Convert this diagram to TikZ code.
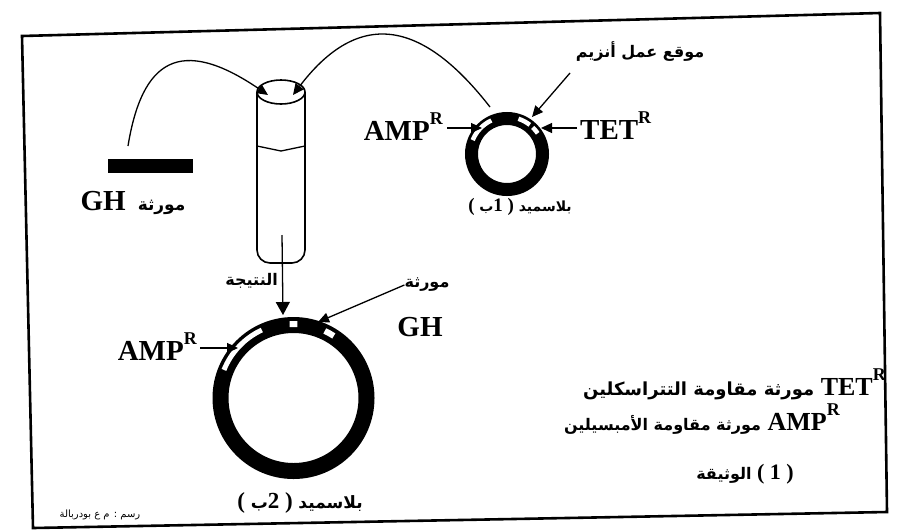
\documentclass[tikz,border=0pt]{standalone}
\usepackage{fontspec}
\setmainfont{Liberation Serif}
\newfontfamily\ar[Script=Arabic]{DejaVu Sans}
\TeXXeTstate=1
\usetikzlibrary{arrows.meta}
\newcommand\supR{\raisebox{.55em}{\fontsize{18}{18}\selectfont R}}
\begin{document}
\begin{tikzpicture}[x=1pt,y=1pt,
  lbl/.style={font=\bfseries\fontsize{29}{29}\selectfont, inner sep=0pt},
  leg/.style={font=\bfseries\fontsize{26}{26}\selectfont, inner sep=0pt},
  artxt/.style={font=\ar\bfseries\fontsize{16}{18}\selectfont, inner sep=0pt},
  tip/.style={-{Triangle[length=11pt,width=10pt]}, line width=1.3pt},
  bigtip/.style={-{Triangle[length=13pt,width=14pt]}, line width=1.3pt},
  ring/.style={line width=#1},
  gap/.style={white, line width=#1},
]
\useasboundingbox (0,0) rectangle (899,-531);
\fill[white] (0,0) rectangle (899,-531);

% outer frame
\draw[line width=2.6pt] (22,-36) -- (880,-13) -- (887,-512) -- (33,-528) -- cycle;

% ---------- GH gene ----------
\node[fill=black, minimum width=85pt, minimum height=14pt, inner sep=0pt] (gh) at (150.5,-165.5) {};
\coordinate (ghEnd) at (128,-146);
\node[inner sep=0pt] (ghlbl) at (133,-203)
  {\bfseries\fontsize{29}{29}\selectfont GH\, {\ar\fontsize{17}{19}\selectfont مورثة}};

% ---------- test tube ----------
\coordinate (tubeC) at (281,-92);
\draw[line width=1.6pt, rounded corners=13pt] (257,-92) -- (257,-263) -- (305,-263) -- (305,-92);
\draw[line width=1.6pt, fill=white] (tubeC) ellipse (24 and 12);
\draw[line width=1.3pt] (257,-146) -- (281,-151) -- (305,-146);
\coordinate (inL) at (268,-95);
\coordinate (inR) at (293,-95);

% ---------- plasmid 1 ----------
\coordinate (p1) at (507,-154);
\draw[ring=13pt] (p1) circle (35.5);
\draw[gap=4.5pt] ([shift={(115:37)}]p1) arc[start angle=115, end angle=158, radius=37];
\draw[gap=4.5pt] ([shift={(52:37)}]p1) arc[start angle=52, end angle=72, radius=37];
\draw[gap=4.5pt] ([shift={(34:37)}]p1) arc[start angle=34, end angle=46, radius=37];
\coordinate (p1top) at (490,-107);
\coordinate (ampSite1) at (482,-128);
\coordinate (tetSite1) at (541,-128);
\coordinate (enzSite) at (532,-117);

\node[lbl, anchor=base east] (amp1) at (443,-140) {AMP\supR};
\node[lbl, anchor=base west] (tet1) at (580,-139) {TET\supR};
\node[artxt] (enz) at (640,-52) {\beginR موقع عمل أنزيم\endR};
\coordinate (enzFoot) at (570,-73);
\node[inner sep=0pt] (pl1) at (520,-207)
  {\bfseries\fontsize{19}{19}\selectfont ( {\ar\fontsize{14}{16}\selectfont ب}1 ) {\ar\fontsize{14}{16}\selectfont بلاسميد}};

\draw[tip] ([shift={(4,12)}]amp1.base east) -- (ampSite1);
\draw[tip] ([shift={(-3,11)}]tet1.base west) -- (tetSite1);
\draw[tip] (enzFoot) -- (enzSite);

% curves carrying the gene and the plasmid into the tube
\draw[tip] (ghEnd) .. controls (142,-60) and (180,-35) .. (inL);
\draw[tip] (p1top) .. controls (430,-30) and (365,0) .. (inR);

% ---------- result ----------
\coordinate (res) at (282,-235);
\coordinate (p2top) at (283,-315);
\draw[bigtip] (res) -- (p2top);
\node[artxt, anchor=east] (reslbl) at (278,-281) {النتيجة};

% ---------- plasmid 2 ----------
\coordinate (p2) at (293.5,-398);
\draw[ring=16pt] (p2) circle (73);
\draw[gap=5pt] ([shift={(115:75)}]p2) arc[start angle=115, end angle=158, radius=75];
\draw[gap=6pt] ([shift={(87:74)}]p2) arc[start angle=87, end angle=93, radius=74];
\draw[gap=6pt] ([shift={(57:74)}]p2) arc[start angle=57, end angle=65, radius=74];
\coordinate (ampSite2) at (238,-348);
\coordinate (ghSite) at (318,-322);

\node[lbl, anchor=base east] (amp2) at (197,-360) {AMP\supR};
\draw[tip] ([shift={(3,12)}]amp2.base east) -- (ampSite2);
\node[artxt] (ghword) at (427,-285) {مورثة};
\node[lbl] (gh2) at (420,-327) {GH};
\draw[tip] (ghword.west) -- (ghSite);
\node[inner sep=0pt] (pl2) at (300,-503)
  {\bfseries\fontsize{23}{23}\selectfont ( {\ar\fontsize{17}{19}\selectfont ب}2 ) {\ar\fontsize{17}{19}\selectfont بلاسميد}};

% ---------- legend ----------
\node[leg, anchor=base east] (legtet) at (886,-395)
  {{\ar\fontsize{18}{20}\selectfont\beginR مورثة مقاومة التتراسكلين\endR} TET\supR};
\node[leg, anchor=base east] (legamp) at (840,-430)
  {{\ar\fontsize{16}{18}\selectfont\beginR مورثة مقاومة الأمبسيلين\endR} AMP\supR};
\node[inner sep=0pt] (doc) at (745,-474)
  {\bfseries\fontsize{22}{22}\selectfont {\ar\fontsize{16}{18}\selectfont الوثيقة} ( 1 )};

% credit line
\node[inner sep=0pt] (credit) at (100,-515)
  {\ar\fontsize{10}{12}\selectfont\beginR رسم : م ع بودربالة\endR};
\end{tikzpicture}
\end{document}
